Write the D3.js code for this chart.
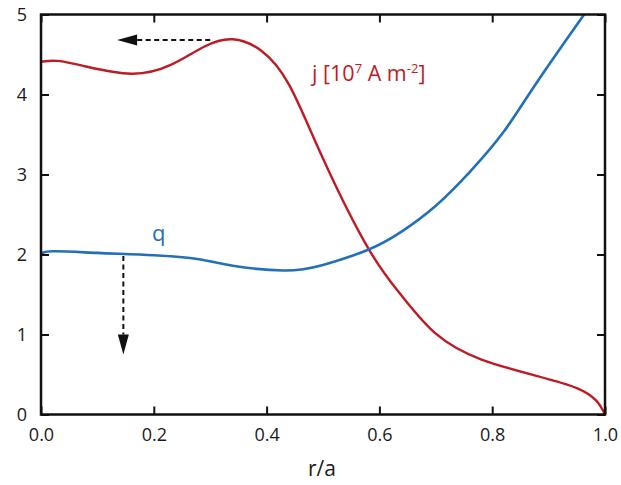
<!DOCTYPE html>
<html><head><meta charset="utf-8">
<script src="https://cdn.jsdelivr.net/npm/d3@7"></script>
<style>body{margin:0;background:#fff}svg text{font-family:"Open Sans","Noto Sans",sans-serif}</style>
</head><body><svg id="c" width="621" height="485"></svg>
<script>
const xTicks = [0, 0.2, 0.4, 0.6, 0.8, 1.0];
const yTicks = [0, 1, 2, 3, 4, 5];
const jR = [0, 0.03, 0.08, 0.16, 0.23, 0.29, 0.34, 0.39, 0.44, 0.50, 0.58, 0.64, 0.70, 0.78, 0.88, 0.95, 0.985, 1.0];
const jV = [4.41, 4.42, 4.35, 4.26, 4.37, 4.60, 4.69, 4.55, 4.12, 3.20, 2.08, 1.48, 1.01, 0.69, 0.48, 0.33, 0.17, 0.0];
const qR = [0, 0.02, 0.10, 0.20, 0.28, 0.34, 0.43, 0.50, 0.58, 0.64, 0.70, 0.76, 0.82, 0.88, 0.965, 0.975];
const qV = [2.00, 2.04, 2.02, 1.99, 1.94, 1.86, 1.80, 1.87, 2.06, 2.29, 2.61, 3.03, 3.53, 4.16, 5.02, 5.12];
// annotation arrows in data coordinates
const jArrow = {x1: 0.30, y1: 4.68, x2: 0.135, y2: 4.68};
const qArrow = {x1: 0.146, y1: 1.98, x2: 0.146, y2: 0.75};

const svg = d3.select("#c");
const L = 41, R = 605, T = 14.5, B = 414.5;
const x = d3.scaleLinear().domain([0, 1]).range([L, R]);
const y = d3.scaleLinear().domain([0, 5]).range([B, T]);
const red = "#be1b24", blue = "#2170b8";

svg.append("defs").append("clipPath").attr("id","clip").append("rect")
  .attr("x", L).attr("y", T).attr("width", R-L).attr("height", B-T);

const line = d3.line().x(d => x(d[0])).y(d => y(d[1])).curve(d3.curveNatural);
const g = svg.append("g").attr("clip-path","url(#clip)");
g.append("path").datum(jR.map((r,i)=>[r,jV[i]])).attr("d", line)
  .attr("fill","none").attr("stroke", red).attr("stroke-width", 2.4);
g.append("path").datum(qR.map((r,i)=>[r,qV[i]])).attr("d", line)
  .attr("fill","none").attr("stroke", blue).attr("stroke-width", 2.6);

// frame + axes with inward ticks
const tl = 8;
const axB = d3.axisBottom(x).tickValues(xTicks).tickSize(-tl).tickFormat(d3.format(".1f")).tickPadding(14);
const axT = d3.axisTop(x).tickValues(xTicks).tickSize(-tl).tickFormat("");
const axL = d3.axisLeft(y).tickValues(yTicks).tickSize(-tl).tickFormat(d3.format("d")).tickPadding(14);
const axR = d3.axisRight(y).tickValues(yTicks).tickSize(-tl).tickFormat("");
function style(sel){
  sel.select(".domain").remove();
  sel.selectAll(".tick line").attr("stroke","#111").attr("stroke-width",2);
  sel.selectAll(".tick text").attr("fill","#1a1a1a").style("font-size","18px");
}
svg.append("g").attr("transform",`translate(0,${B})`).call(axB).call(style);
svg.append("g").attr("transform",`translate(0,${T})`).call(axT).call(style);
svg.append("g").attr("transform",`translate(${L},0)`).call(axL).call(style);
svg.append("g").attr("transform",`translate(${R},0)`).call(axR).call(style);
svg.selectAll(".tick text").attr("font-family",null);
svg.append("rect").attr("x",L).attr("y",T).attr("width",R-L).attr("height",B-T)
  .attr("fill","none").attr("stroke","#111").attr("stroke-width",2.5);

svg.append("text").attr("x", 322).attr("y", 476).attr("text-anchor","middle")
  .attr("fill","#1a1a1a").style("font-size","21px").text("r/a");

// labels
const jl = svg.append("text").attr("x", 312).attr("y", 81).attr("fill", red).style("font-size","21.5px");
jl.append("tspan").text("j [10");
jl.append("tspan").attr("dy",-8).style("font-size","13px").text("7");
jl.append("tspan").attr("dy",8).text(" A m");
jl.append("tspan").attr("dy",-8).style("font-size","13px").text("-2");
jl.append("tspan").attr("dy",8).text("]");
svg.append("text").attr("x", 152).attr("y", 241).attr("fill", blue).style("font-size","22px").text("q");

// arrows
function arrow(a, dir){
  const x1=x(a.x1), y1=y(a.y1), x2=x(a.x2), y2=y(a.y2);
  const hl = 20, hw = 5.5;
  let bx=x2, by=y2, pts;
  if(dir==="left"){ bx = x2+hl; pts=[[x2,y2],[bx,y2-hw],[bx,y2+hw]]; }
  else { by = y2-hl; pts=[[x2,y2],[x2-hw,by],[x2+hw,by]]; }
  svg.append("line").attr("x1",x1).attr("y1",y1).attr("x2",bx).attr("y2",by)
    .attr("stroke","#111").attr("stroke-width",2).attr("stroke-dasharray","5,3.5");
  svg.append("polygon").attr("points",pts.map(p=>p.join(",")).join(" ")).attr("fill","#111");
}
arrow(jArrow,"left");
arrow(qArrow,"down");
</script></body></html>
